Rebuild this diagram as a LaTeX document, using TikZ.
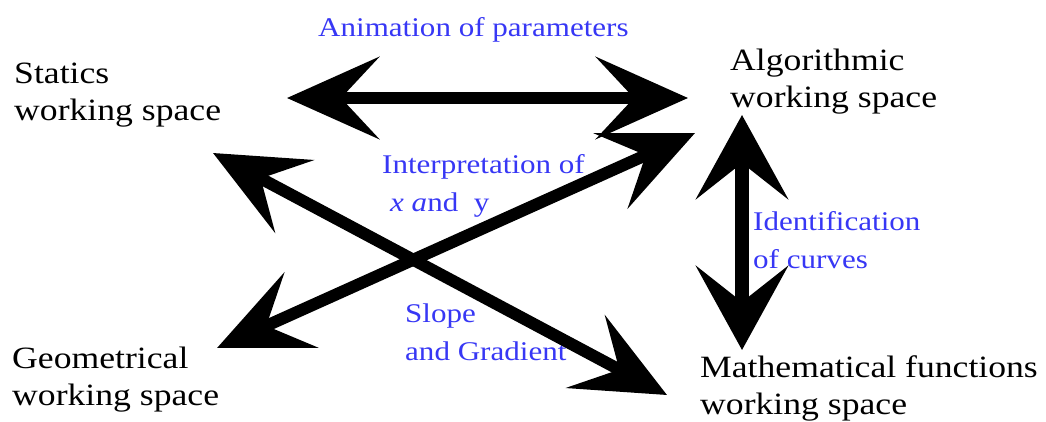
\documentclass[tikz,border=0pt]{standalone}
\usepackage{fontspec}
\setmainfont[FakeStretch=1.15]{Liberation Serif}
\usetikzlibrary{arrows.meta}
\definecolor{lblue}{RGB}{55,55,245}
\begin{document}
\begin{tikzpicture}[x=1pt,y=-1pt,
  space/.style={anchor=base west,align=left,inner sep=0pt,font=\fontsize{31}{37}\selectfont,text=black},
  lab/.style={anchor=base west,align=left,inner sep=0pt,font=\fontsize{27}{37.5}\selectfont,text=lblue},
  bigarrow/.style={line width=12pt,{Stealth[length=92pt,width=82pt,inset=38pt]}-{Stealth[length=92pt,width=82pt,inset=38pt]}},
  vertarrow/.style={line width=14pt,{Stealth[length=84pt,width=92pt,inset=36pt]}-{Stealth[length=84pt,width=92pt,inset=36pt]}}]
\useasboundingbox[fill=white] (0,0) rectangle (1046,421);
% text blocks (anchor = baseline of last line)
\node[space] (stat) at (14,120) {Statics\\working space};
\node[space] (algo) at (730,107) {Algorithmic\\working space};
\node[space] (geom) at (12,405) {Geometrical\\working space};
\node[space] (math) at (700,414) {Mathematical functions\\working space};
% labels
\node[lab] (anim) at (318,36) {Animation of parameters};
\node[lab] (interp) at (382,211) {Interpretation of\\\hspace*{8pt}\textit{x a}nd\ \ y};
\node[lab] (slope) at (405,360) {Slope\\and Gradient};
\node[lab] (ident) at (753,268) {Identification\\of curves};
% arrow ends
\coordinate (hL) at (287,98);
\coordinate (hR) at (688,98);
\coordinate (d1a) at (213,153);
\coordinate (d1b) at (667,395);
\coordinate (d2a) at (217,348);
\coordinate (d2b) at (695,133);
\coordinate (vT) at (742,115);
\coordinate (vB) at (742,350);
\draw[bigarrow] (hL) -- (hR);
\draw[bigarrow] (d1a) -- (d1b);
\draw[bigarrow] (d2a) -- (d2b);
\draw[vertarrow] (vT) -- (vB);
\end{tikzpicture}
\end{document}
